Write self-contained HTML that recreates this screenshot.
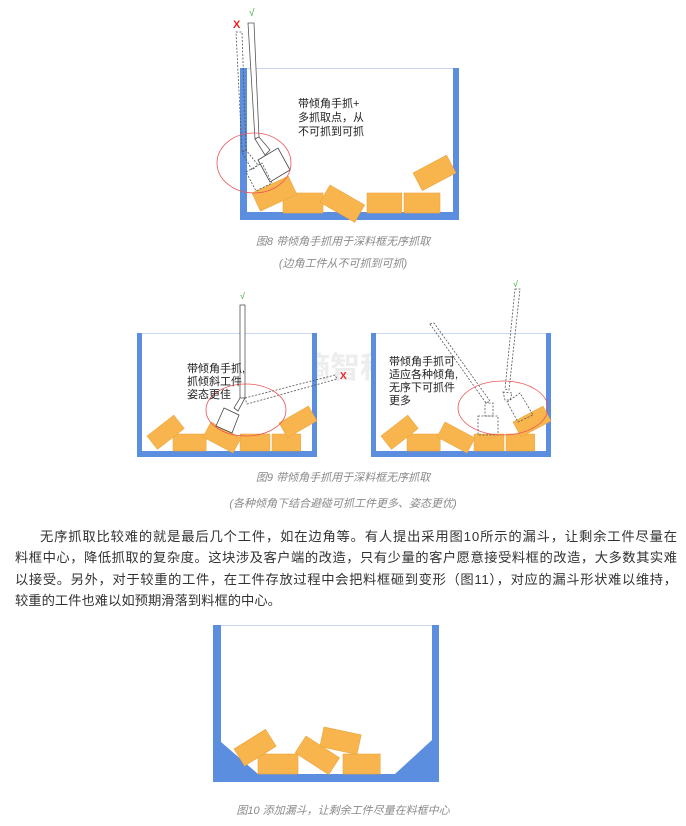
<!DOCTYPE html>
<html><head><meta charset="utf-8">
<style>
html,body{margin:0;padding:0;background:#fff;width:686px;height:826px;overflow:hidden}
svg{display:block}
.cap{font-family:"Liberation Sans","Noto Sans CJK SC",sans-serif;font-size:11px;fill:#8a8a8a;font-style:italic}
.lbl{font-family:"Liberation Sans","Noto Sans CJK SC",sans-serif;font-size:11px;fill:#222}
.p{font-family:"Liberation Sans","Noto Sans CJK SC",sans-serif;font-size:13.3px;fill:#333}
.wm{font-family:"Liberation Sans","Noto Sans CJK SC",sans-serif;fill:#ededed;font-weight:bold}
</style></head><body>
<svg width="686" height="826" viewBox="0 0 686 826" xmlns="http://www.w3.org/2000/svg">
<defs>
<g id="box"><rect x="0" y="0" width="40" height="20" fill="#F8B54E" stroke="#E9A23A" stroke-width="0.6"/></g>
</defs>

<!-- FIG 8 -->
<text class="wm" x="292" y="128" font-size="34">熵智科技</text>
<rect x="240" y="68" width="219" height="152" fill="#5B8EDE"/>
<rect x="247" y="69" width="206" height="143" fill="#fff"/>
<line x1="247" y1="68.5" x2="453" y2="68.5" stroke="#c9d7f0"/>
<use href="#box" transform="translate(283,193)"/>
<use href="#box" transform="translate(367,193) scale(0.87,1)"/>
<use href="#box" transform="translate(404,193) scale(0.9,1)"/>
<use href="#box" transform="translate(330,185) rotate(30)"/>
<use href="#box" transform="translate(413,173) rotate(-28) scale(0.95,1)"/>
<use href="#box" transform="translate(252,193) rotate(-25)"/>
<!-- solid gripper -->
<polygon points="248,23 254,23 259,137 255,139" fill="#fff" stroke="#555" stroke-width="0.8"/>
<polygon points="255,139 259,137 270,150 265,155" fill="#fff" stroke="#555" stroke-width="0.8"/>
<polygon points="258,160 278,148 290,170 270,182" fill="#fff" stroke="#444" stroke-width="0.8"/>
<!-- dashed gripper -->
<polygon points="236,32 242,32 246,150 242,152" fill="none" stroke="#555" stroke-width="0.8" stroke-dasharray="2,1.5"/>
<polygon points="242,152 246,150 258,165 252,170" fill="none" stroke="#555" stroke-width="0.8" stroke-dasharray="2,1.5"/>
<polygon points="246,172 262,163 272,183 256,191" fill="none" stroke="#555" stroke-width="0.8" stroke-dasharray="2,1.5"/>
<ellipse cx="254" cy="163" rx="37" ry="30" fill="none" stroke="#e55" stroke-width="0.8"/>
<text x="233" y="28" font-family="Liberation Sans" font-size="11" font-weight="bold" fill="#e22">X</text>
<text x="249" y="16" font-family="Liberation Sans" font-size="10" fill="#3a3">√</text>
<text class="lbl" x="298" y="107">带倾角手抓+</text>
<text class="lbl" x="298" y="121">多抓取点，从</text>
<text class="lbl" x="298" y="135">不可抓到可抓</text>
<text class="cap" x="343" y="245" text-anchor="middle">图8 带倾角手抓用于深料框无序抓取</text>
<text class="cap" x="343" y="267" text-anchor="middle">(边角工件从不可抓到可抓)</text>

<!-- FIG 9 left -->
<text class="wm" x="300" y="378" font-size="30">熵智科</text>
<rect x="137" y="333" width="180" height="124" fill="#5B8EDE"/>
<rect x="142" y="334" width="170" height="117" fill="#fff"/>
<line x1="142" y1="333.5" x2="312" y2="333.5" stroke="#c9d7f0"/>
<use href="#box" transform="translate(173,434) scale(0.83,0.85)"/>
<use href="#box" transform="translate(240,434) scale(0.75,0.85)"/>
<use href="#box" transform="translate(272,434) scale(0.72,0.85)"/>
<use href="#box" transform="translate(147,436) rotate(-38) scale(0.85,0.85)"/>
<use href="#box" transform="translate(211,422) rotate(28) scale(0.85,0.85)"/>
<use href="#box" transform="translate(279,423) rotate(-30) scale(0.85,0.85)"/>
<rect x="240" y="305" width="5" height="93" fill="#fff" stroke="#555" stroke-width="0.8"/>
<polygon points="240,398 245,398 238,411 234,408" fill="#fff" stroke="#555" stroke-width="0.8"/>
<polygon points="224,408 239,415 232,433 216,426" fill="#fff" stroke="#444" stroke-width="0.8"/>
<polygon points="245,398 335,375 337,379 247,404" fill="none" stroke="#555" stroke-width="0.8" stroke-dasharray="2,1.5"/>
<ellipse cx="246" cy="410" rx="40" ry="26" fill="none" stroke="#e55" stroke-width="0.8"/>
<text x="340" y="379" font-family="Liberation Sans" font-size="10" font-weight="bold" fill="#e22">X</text>
<text x="240" y="299" font-family="Liberation Sans" font-size="9" fill="#3a3">√</text>
<text class="lbl" x="187" y="372" font-size="10">带倾角手抓,</text>
<text class="lbl" x="187" y="385" font-size="10">抓倾斜工件</text>
<text class="lbl" x="187" y="398" font-size="10">姿态更佳</text>

<!-- FIG 9 right -->
<rect x="371" y="333" width="180" height="124" fill="#5B8EDE"/>
<rect x="376" y="334" width="170" height="117" fill="#fff"/>
<line x1="376" y1="333.5" x2="546" y2="333.5" stroke="#c9d7f0"/>
<use href="#box" transform="translate(407,434) scale(0.83,0.85)"/>
<use href="#box" transform="translate(474,434) scale(0.75,0.85)"/>
<use href="#box" transform="translate(506,434) scale(0.72,0.85)"/>
<use href="#box" transform="translate(381,436) rotate(-38) scale(0.85,0.85)"/>
<use href="#box" transform="translate(445,422) rotate(28) scale(0.85,0.85)"/>
<use href="#box" transform="translate(513,422) rotate(-28) scale(0.85,0.85)"/>
<polygon points="430,324 434,323 490,401 486,403" fill="none" stroke="#555" stroke-width="0.8" stroke-dasharray="2,1.5"/>
<rect x="485" y="403" width="8" height="13" fill="none" stroke="#555" stroke-width="0.8" stroke-dasharray="2,1.5"/>
<rect x="478" y="416" width="20" height="19" fill="none" stroke="#555" stroke-width="0.8" stroke-dasharray="2,1.5"/>
<polygon points="515,289 520,289 509,390 505,389" fill="none" stroke="#555" stroke-width="0.8" stroke-dasharray="2,1.5"/>
<polygon points="503,392 512,393 510,400 505,400" fill="none" stroke="#555" stroke-width="0.8" stroke-dasharray="2,1.5"/>
<polygon points="507,402 520,393 533,415 518,422" fill="none" stroke="#555" stroke-width="0.8" stroke-dasharray="2,1.5"/>
<ellipse cx="503" cy="408" rx="45" ry="27" fill="none" stroke="#e55" stroke-width="0.8"/>
<text x="513" y="287" font-family="Liberation Sans" font-size="9" fill="#3a3">√</text>
<text class="lbl" x="389" y="365" font-size="10">带倾角手抓可</text>
<text class="lbl" x="389" y="378" font-size="10">适应各种倾角,</text>
<text class="lbl" x="389" y="391" font-size="10">无序下可抓件</text>
<text class="lbl" x="389" y="404" font-size="10">更多</text>

<text class="cap" x="343" y="481" text-anchor="middle">图9 带倾角手抓用于深料框无序抓取</text>
<text class="cap" x="343" y="507" text-anchor="middle">(各种倾角下结合避碰可抓工件更多、姿态更优)</text>

<!-- paragraph -->
<text class="p" x="40" y="541" textLength="637" lengthAdjust="spacing">无序抓取比较难的就是最后几个工件，如在边角等。有人提出采用图10所示的漏斗，让剩余工件尽量在</text>
<text class="p" x="15" y="562" textLength="662" lengthAdjust="spacing">料框中心，降低抓取的复杂度。这块涉及客户端的改造，只有少量的客户愿意接受料框的改造，大多数其实难</text>
<text class="p" x="15" y="584" textLength="662" lengthAdjust="spacing">以接受。另外，对于较重的工件，在工件存放过程中会把料框砸到变形（图11），对应的漏斗形状难以维持，</text>
<text class="p" x="15" y="605">较重的工件也难以如预期滑落到料框的中心。</text>

<!-- FIG 10 -->
<text class="wm" x="287" y="706" font-size="32">熵智科技</text>
<rect x="213" y="625" width="226" height="157" fill="#5B8EDE"/>
<rect x="221" y="626" width="211" height="148" fill="#fff"/>
<line x1="221" y1="625.5" x2="432" y2="625.5" stroke="#c9d7f0"/>
<polygon points="221,742 258,774 221,774" fill="#5B8EDE"/>
<polygon points="432,740 395,774 432,774" fill="#5B8EDE"/>
<use href="#box" transform="translate(258,754) scale(1,1)"/>
<use href="#box" transform="translate(343,754) scale(0.93,1)"/>
<use href="#box" transform="translate(234,749) rotate(-32) scale(0.93,1)"/>
<use href="#box" transform="translate(306,736) rotate(33) scale(1,1)"/>
<use href="#box" transform="translate(324,727) rotate(12) scale(0.95,1)"/>
<text class="cap" x="343" y="814" text-anchor="middle">图10 添加漏斗，让剩余工件尽量在料框中心</text>
</svg>
</body></html>
